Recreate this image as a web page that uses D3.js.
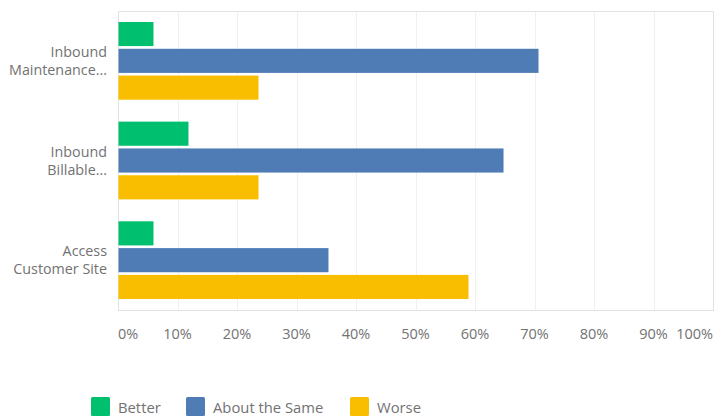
<!DOCTYPE html>
<html>
<head>
<meta charset="utf-8">
<script src="https://cdn.jsdelivr.net/npm/d3@7"></script>
<style>
  html, body { margin: 0; padding: 0; background: #fff; }
  svg { display: block; }
  text { font-family: "Open Sans", sans-serif; fill: #727272; }
</style>
</head>
<body>
<svg id="chart" width="715" height="417"></svg>
<script>
const categories = [["Inbound", "Maintenance..."], ["Inbound", "Billable..."], ["Access", "Customer Site"]];
const seriesNames = ["Better", "About the Same", "Worse"];
const better = [5.88, 11.76, 5.88];
const aboutSame = [70.59, 64.71, 35.29];
const worse = [23.53, 23.53, 58.82];
const tickValues = [0, 10, 20, 30, 40, 50, 60, 70, 80, 90, 100];
const colors = ["#00bf6f", "#507cb6", "#f9be00"];

(function () {
const seriesValues = [better, aboutSame, worse];
const svg = d3.select("#chart");
const mLeft = 118, mRight = 713, mTop = 11, mBottom = 310;

const x = d3.scaleLinear().domain([0, 100]).range([mLeft, mRight]);
const y0 = d3.scaleBand().domain(d3.range(categories.length)).range([mTop, mBottom]).paddingInner(0.22).paddingOuter(0.11);
const y1 = d3.scaleBand().domain(d3.range(seriesNames.length)).range([0, y0.bandwidth()]).paddingInner(0.1);

// gridlines
svg.append("g").selectAll("line").data(tickValues.slice(1, -1)).join("line")
  .attr("x1", d => Math.round(x(d)) + 0.5).attr("x2", d => Math.round(x(d)) + 0.5)
  .attr("y1", mTop).attr("y2", mBottom)
  .attr("stroke", "#f0f0f0").attr("stroke-width", 1);

// frame
svg.append("rect").attr("x", mLeft + 0.5).attr("y", mTop + 0.5)
  .attr("width", mRight - mLeft).attr("height", mBottom - mTop)
  .attr("fill", "none").attr("stroke", "#e2e2e2").attr("stroke-width", 1);

// bars
const groups = svg.append("g").selectAll("g").data(categories).join("g")
  .attr("transform", (d, i) => `translate(0,${y0(i)})`);
groups.selectAll("rect").data((d, i) => seriesValues.map((s, j) => ({ v: s[i], j })))
  .join("rect")
  .attr("x", x(0) + 0.5)
  .attr("y", d => y1(d.j))
  .attr("width", d => x(d.v) - x(0))
  .attr("height", y1.bandwidth())
  .attr("fill", d => colors[d.j]);

// category labels
groups.each(function (d) {
  const g = d3.select(this);
  const c = y0.bandwidth() / 2;
  d.forEach((line, k) => {
    g.append("text")
      .attr("x", 107)
      .attr("y", c + (k - (d.length - 1) / 2) * 18)
      .attr("dy", "0.35em")
      .attr("text-anchor", "end")
      .attr("font-size", 14.3)
      .text(line);
  });
});

// x axis tick labels
svg.append("g").selectAll("text").data(tickValues).join("text")
  .attr("x", d => x(d))
  .attr("y", 334)
  .attr("dy", "0.35em")
  .attr("text-anchor", d => d === 0 ? "start" : d === 100 ? "end" : "middle")
  .attr("font-size", 14.5)
  .text(d => d + "%");

// legend
const legendX = [91, 186, 350];
const lg = svg.append("g").selectAll("g").data(seriesNames).join("g")
  .attr("transform", (d, i) => `translate(${legendX[i]},397)`);
lg.append("rect").attr("width", 19).attr("height", 19).attr("rx", 1.5)
  .attr("fill", (d, i) => colors[i]);
lg.append("text").attr("x", 27).attr("y", 11).attr("dy", "0.35em")
  .attr("font-size", 14.8).text(d => d);
})();
</script>
</body>
</html>
